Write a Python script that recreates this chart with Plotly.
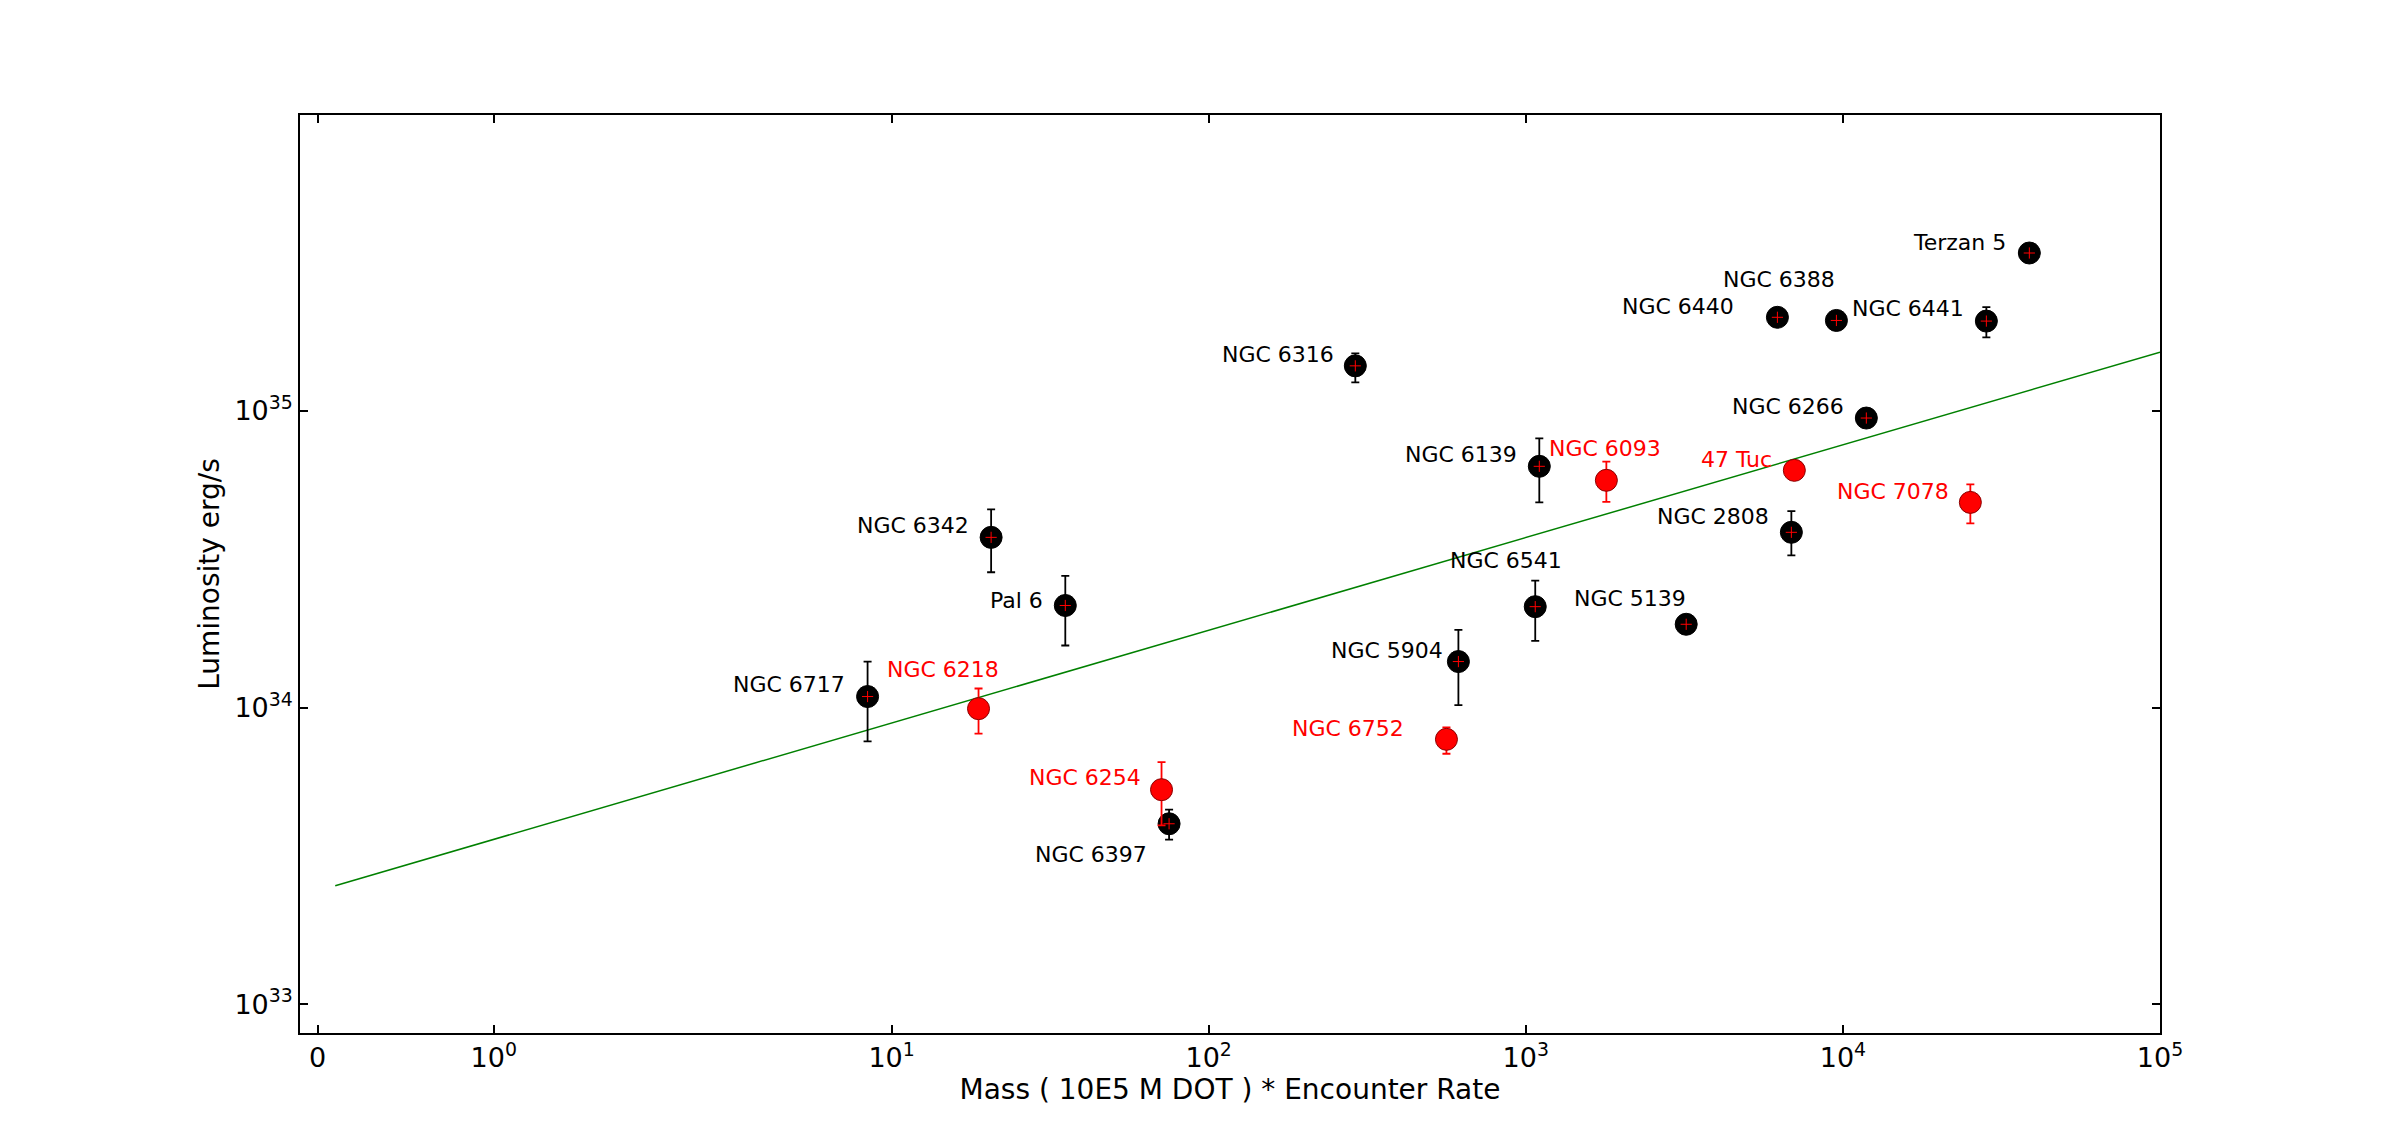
import math
import plotly.graph_objects as go

# ---------------- data ----------------
black_names = ["NGC 6717", "NGC 6342", "Pal 6", "NGC 6397", "NGC 6316", "NGC 5904",
               "NGC 6541", "NGC 6139", "NGC 5139", "NGC 6440", "NGC 2808", "NGC 6388",
               "NGC 6266", "NGC 6441", "Terzan 5"]
black_x = [8.4, 20.6, 35.3, 75.0, 290.0, 613.0, 1071.0, 1103.0, 3205.0, 6216.0,
           6878.0, 9540.0, 11856.0, 28340.0, 38720.0]
black_y = [1.09e34, 3.75e34, 2.21e34, 4.06e33, 1.42e35, 1.43e34, 2.19e34, 6.51e34,
           1.91e34, 2.07e35, 3.90e34, 2.02e35, 9.47e34, 2.01e35, 3.41e35]
black_hi = [1.43e34, 4.66e34, 2.78e34, 4.53e33, 1.565e35, 1.83e34, 2.68e34, 8.09e34,
            1.91e34, 2.07e35, 4.60e34, 2.02e35, 9.47e34, 2.24e35, 3.41e35]
black_lo = [7.7e33, 2.86e34, 1.62e34, 3.59e33, 1.25e35, 1.02e34, 1.68e34, 4.92e34,
            1.91e34, 2.07e35, 3.26e34, 2.02e35, 9.47e34, 1.77e35, 3.41e35]

red_names = ["NGC 6218", "NGC 6254", "NGC 6752", "NGC 6093", "47 Tuc", "NGC 7078"]
red_x = [18.8, 71.0, 562.0, 1795.0, 7028.0, 25230.0]
red_y = [9.92e33, 5.29e33, 7.82e33, 5.84e34, 6.31e34, 4.92e34]
red_hi = [1.16e34, 6.55e33, 8.58e33, 6.75e34, 6.31e34, 5.66e34]
red_lo = [8.17e33, 4.01e33, 6.99e33, 4.94e34, 6.31e34, 4.18e34]

fit_x = [0.1, 1.0e5]
fit_y = [2.51e33, 1.58e35]

x_tick_values = [0, 1, 10, 100, 1000, 10000, 100000]
x_tick_labels = ["0", "10<sup>0</sup>", "10<sup>1</sup>", "10<sup>2</sup>",
                 "10<sup>3</sup>", "10<sup>4</sup>", "10<sup>5</sup>"]
y_tick_values = [1e33, 1e34, 1e35]
y_tick_labels = ["10<sup>33</sup>", "10<sup>34</sup>", "10<sup>35</sup>"]

x_title = "Mass ( 10E5 M DOT ) * Encounter Rate"
y_title = "Luminosity erg/s"

# label placement (anchor, dx px, dy px screen-down) -- layout only
black_label_pos = [("right", -21, -12), ("right", -20, -12), ("right", -20, -5),
                   ("right", -20, 31), ("right", -19, -11), ("right", -13, -11),
                   ("center", -29, -46), ("right", -20, -12), ("right", 2, -26),
                   ("right", -41, -11), ("right", -20, -16), ("right", 1, -41),
                   ("right", -20, -12), ("right", -20, -13), ("right", -21, -11)]
red_label_pos = [("center", -36, -39), ("right", -19, -12), ("right", -40, -11),
                 ("center", -1, -32), ("right", -20, -11), ("right", -19, -11)]

# ---------------- symlog scale (linthresh=2, linscale=1, base 10) ----------------
LT = 2.0
LS = 1.0 / (1.0 - 1.0 / 10.0)


def symlog(v):
    a = abs(v)
    s = 1 if v >= 0 else -1
    if a <= LT:
        return v * LS
    return s * LT * (LS + math.log10(a / LT))


FONT = "DejaVu Sans"

fig = go.Figure()

fig.add_trace(go.Scatter(
    x=[symlog(v) for v in fit_x], y=fit_y, mode="lines",
    line=dict(color="#008000", width=1.5), hoverinfo="skip", showlegend=False))

fig.add_trace(go.Scatter(
    x=[symlog(v) for v in black_x], y=black_y, mode="markers",
    marker=dict(size=22, color="black", line=dict(color="black", width=1)),
    error_y=dict(type="data", symmetric=False,
                 array=[h - y for h, y in zip(black_hi, black_y)],
                 arrayminus=[y - l for l, y in zip(black_lo, black_y)],
                 color="black", thickness=1.8, width=4),
    showlegend=False))

fig.add_trace(go.Scatter(
    x=[symlog(v) for v in black_x], y=black_y, mode="markers",
    marker=dict(symbol="cross-thin", size=8, color="red",
                line=dict(color="red", width=1)),
    showlegend=False))

fig.add_trace(go.Scatter(
    x=[symlog(v) for v in red_x], y=red_y, mode="markers",
    marker=dict(size=22, color="red", line=dict(color="#8b0000", width=1)),
    error_y=dict(type="data", symmetric=False,
                 array=[h - y for h, y in zip(red_hi, red_y)],
                 arrayminus=[y - l for l, y in zip(red_lo, red_y)],
                 color="red", thickness=1.8, width=4),
    showlegend=False))

annotations = []
for names, xs, ys, pos, col in [(black_names, black_x, black_y, black_label_pos, "black"),
                                (red_names, red_x, red_y, red_label_pos, "red")]:
    for n, xv, yv, (anc, dx, dy) in zip(names, xs, ys, pos):
        annotations.append(dict(
            x=symlog(xv), y=math.log10(yv), xref="x", yref="y", text=n,
            showarrow=False, xanchor=anc, yanchor="middle", xshift=dx, yshift=-dy,
            font=dict(family=FONT, size=22, color=col)))

fig.update_layout(
    width=2400, height=1147,
    margin=dict(l=292, r=248, t=107, b=122, pad=0),
    paper_bgcolor="white", plot_bgcolor="white",
    font=dict(family=FONT, color="black", size=22),
    annotations=annotations,
)

fig.update_xaxes(
    range=[symlog(-0.1), symlog(1.0e5)],
    tickvals=[symlog(v) for v in x_tick_values], ticktext=x_tick_labels,
    ticks="inside", ticklen=8, tickwidth=2, tickcolor="black",
    showline=True, linecolor="black", linewidth=1.5, mirror="allticks",
    showgrid=False, zeroline=False,
    tickfont=dict(family=FONT, size=27, color="black"),
    title=dict(text=x_title, font=dict(family=FONT, size=28, color="black"), standoff=6),
)

fig.update_yaxes(
    type="log", range=[math.log10(8e32), 35.998],
    tickvals=y_tick_values, ticktext=y_tick_labels,
    ticks="inside", ticklen=8, tickwidth=2, tickcolor="black",
    showline=True, linecolor="black", linewidth=1.5, mirror="allticks",
    showgrid=False, zeroline=False,
    tickfont=dict(family=FONT, size=27, color="black"),
    title=dict(text=y_title, font=dict(family=FONT, size=28, color="black"), standoff=7),
)

fig.write_html("out.html")
